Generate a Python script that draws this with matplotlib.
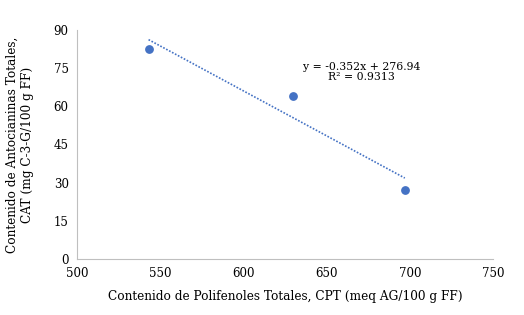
import numpy as np
import matplotlib
matplotlib.use("Agg")
import matplotlib.pyplot as plt

cpt = [543, 630, 697]
cat = [82.5, 64.0, 27.0]
xticks = [500, 550, 600, 650, 700, 750]
yticks = [0, 15, 30, 45, 60, 75, 90]
eq_text = "y = -0.352x + 276.94\nR² = 0.9313"

plt.rcParams['font.family'] = ['DejaVu Serif']

fig = plt.figure(figsize=(5.24, 3.15), dpi=100)
ax = fig.add_axes([77/524, 1 - 259/315, 416/524, 229/315])

ax.scatter(cpt, cat, s=28, color='#4472C4', zorder=3)
slope, intercept = np.polyfit(cpt, cat, 1)
xs = np.array([min(cpt), max(cpt)])
ax.plot(xs, slope * xs + intercept, linestyle=(0, (1, 1)), color='#4472C4', lw=1.2)

ax.set_xlim(500, 750)
ax.set_ylim(0, 90)
ax.set_xticks(xticks)
ax.set_yticks(yticks)
for s in ['top', 'right']:
    ax.spines[s].set_visible(False)
for s in ['left', 'bottom']:
    ax.spines[s].set_color('#BFBFBF')
ax.tick_params(length=0, labelsize=8.5, pad=6)
ax.set_xlabel("Contenido de Polifenoles Totales, CPT (meq AG/100 g FF)", fontsize=8.7, labelpad=7)
ax.set_ylabel("Contenido de Antocianinas Totales,\nCAT (mg C-3-G/100 g FF)", fontsize=8.7, labelpad=14)
ax.text(671, 77.6, eq_text, fontsize=7.8, ha='center', va='top', linespacing=1.1)

fig.savefig("out.png", dpi=100, facecolor='white')
